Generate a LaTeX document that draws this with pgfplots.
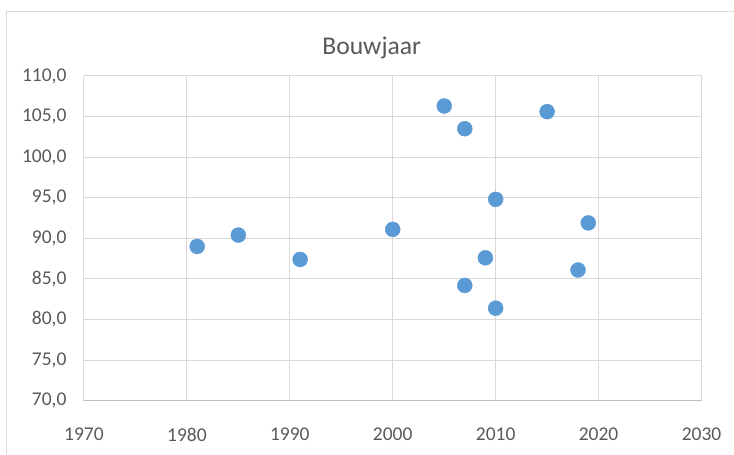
\documentclass[border=0pt]{standalone}
\usepackage{fontspec}
\setmainfont{Carlito}
\usepackage{pgfplots}
\pgfplotsset{compat=1.18}
\definecolor{dotblue}{HTML}{5B9BD5}
\definecolor{gridgray}{HTML}{D9D9D9}
\definecolor{axisgray}{HTML}{BFBFBF}
\definecolor{textgray}{HTML}{595959}
\begin{document}
\begin{tikzpicture}[x=1pt,y=1pt]
\path (0,0) rectangle (734,454);
\draw[gridgray, line width=1pt] (7,0) -- (7,442) -- (734,442);
\node[textgray, font=\fontsize{25.6}{30}\selectfont] at (372,406) {Bouwjaar};
\begin{axis}[
  at={(84pt,53pt)}, anchor=south west,
  scale only axis, width=618pt, height=325pt,
  xmin=1970, xmax=2030, ymin=70, ymax=110,
  xtick={1970,1980,...,2030}, ytick={70,75,...,110},
  grid=major,
  major grid style={gridgray, line width=1pt},
  axis line style={draw=none},
  major tick length=0pt,
  tick label style={textgray, font=\fontsize{19.5}{23}\selectfont},
  /pgf/number format/assume math mode=true,
  x tick label style={/pgf/number format/1000 sep={}, yshift=-24pt},
  y tick label style={/pgf/number format/fixed, /pgf/number format/fixed zerofill, /pgf/number format/precision=1, /pgf/number format/use comma, /pgf/number format/1000 sep={}, xshift=-14pt},
  clip=false,
  extra description/.code={\draw[axisgray, line width=1pt] (rel axis cs:0,0) -- (rel axis cs:1,0);},
]
\addplot[only marks, mark=*, mark size=7.5pt, mark options={fill=dotblue, draw=dotblue}] coordinates {
(1981,89.0) (1985,90.4) (1991,87.4) (2000,91.1) (2005,106.3) (2007,103.5)
(2007,84.2) (2010,94.8) (2009,87.6) (2010,81.4) (2015,105.6) (2019,91.9) (2018,86.1)
};
\end{axis}
\end{tikzpicture}
\end{document}
